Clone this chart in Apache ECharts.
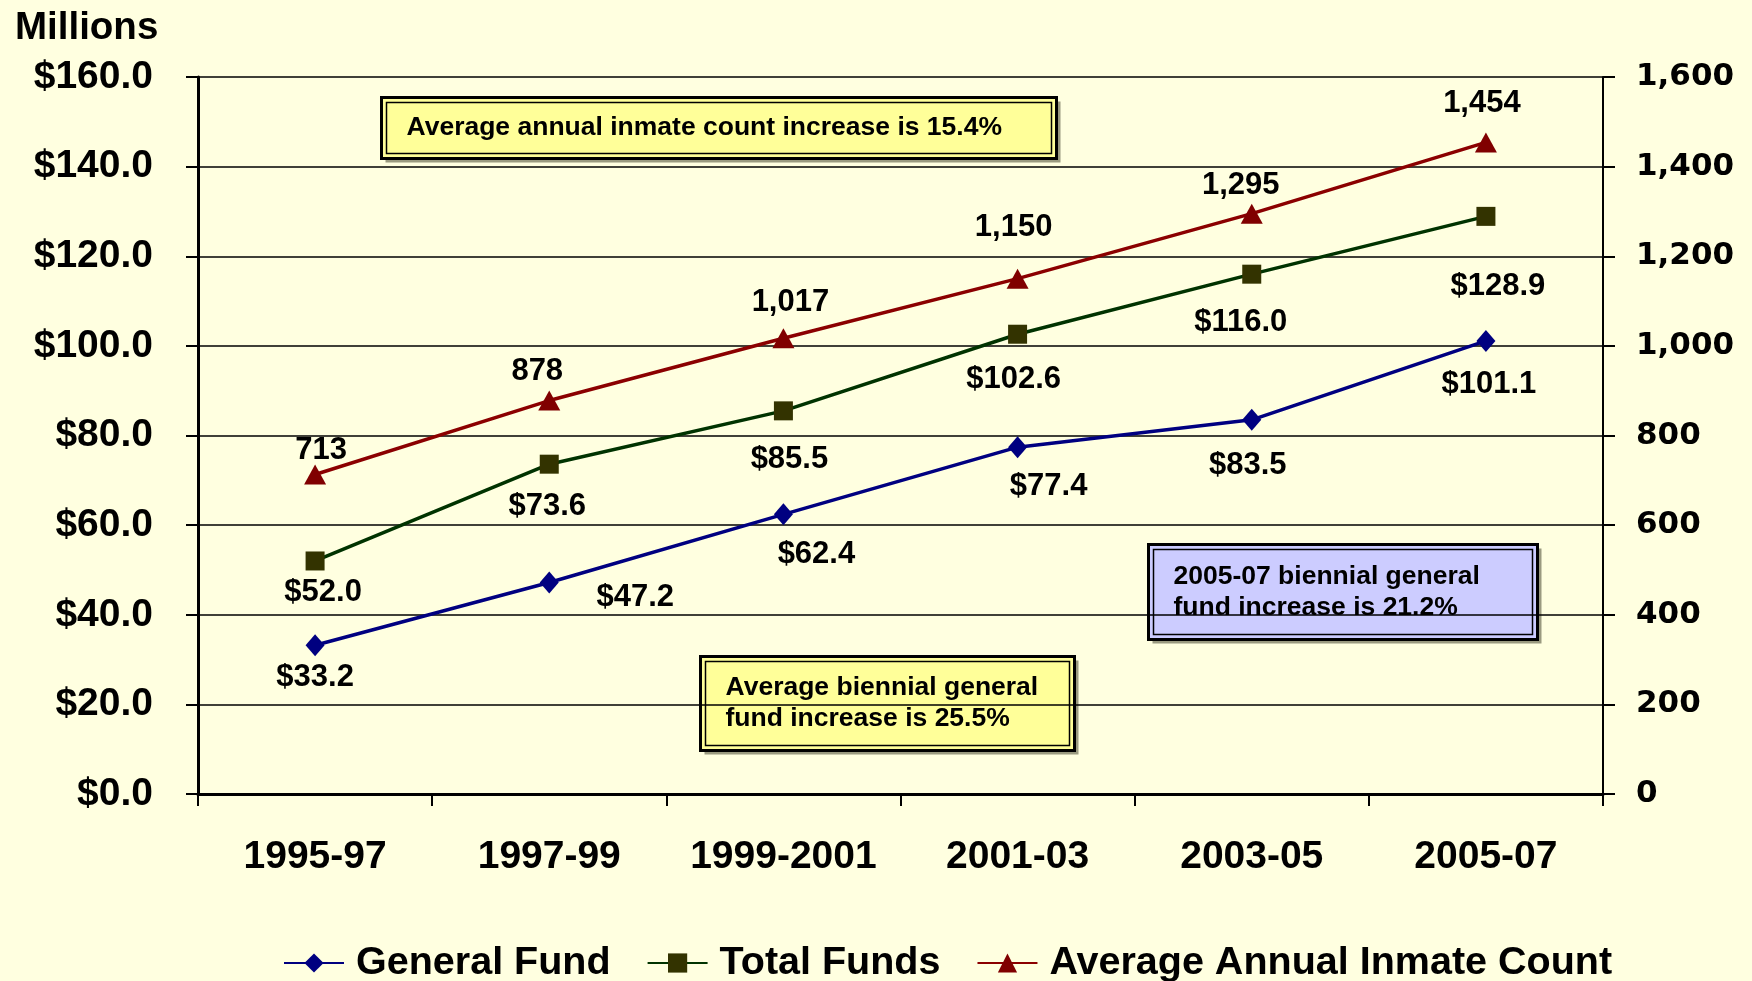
<!DOCTYPE html>
<html>
<head>
<meta charset="utf-8">
<title>General Fund, Total Funds and Inmate Count</title>
<script src="https://cdn.jsdelivr.net/npm/echarts@6/dist/echarts.min.js"></script>
<style>
  html, body { margin: 0; padding: 0; background: #ffffe0; }
  #chart { width: 1752px; height: 981px; }
</style>
</head>
<body>
<div id="chart"></div>
<script>
// biennium categories and values
const categories = ['1995-97', '1997-99', '1999-2001', '2001-03', '2003-05', '2005-07'];
const generalFund = [33.2, 47.2, 62.4, 77.4, 83.5, 101.1];   // $ millions
const totalFunds = [52.0, 73.6, 85.5, 102.6, 116.0, 128.9];  // $ millions
const inmateCount = [713, 878, 1017, 1150, 1295, 1454];      // average annual

// where each value label sits relative to its marker (px)
const gfLabelOffsets = [[0, 32], [86, 15], [33, 40], [31, 39], [-4, 46], [3, 44]];
const tfLabelOffsets = [[8, 31], [-2, 42], [6, 49], [-4, 45], [-11, 48], [12, 70]];
const icLabelOffsets = [[6, -24], [-12, -29], [7, -36], [-4, -51], [-11, -28], [-4, -39]];

const FONT = 'Liberation Sans';

function money(v) {
    return '$' + Number(v).toFixed(1);
}
function count(v) {
    return String(v).replace(/\B(?=(\d{3})+(?!\d))/g, ',');
}

function withLabels(values, offsets) {
    return values.map(function (v, i) {
        return { value: v, label: { offset: offsets[i] } };
    });
}

// framed call-out box: double black border with a soft shadow
function callout(x, y, w, h, fill, lines) {
    return {
        type: 'group',
        left: x,
        top: y,
        z: 50,
        children: [
            { type: 'rect', shape: { x: 4, y: 4, width: w, height: h }, style: { fill: '#9a9a80' } },
            { type: 'rect', shape: { x: 0, y: 0, width: w, height: h }, style: { fill: fill, stroke: '#000', lineWidth: 3 } },
            { type: 'rect', shape: { x: 5, y: 5, width: w - 10, height: h - 10 }, style: { fill: 'none', stroke: '#000', lineWidth: 1.5 } },
            {
                type: 'text',
                x: 25,
                y: h / 2,
                style: {
                    text: lines.join('\n'),
                    fill: '#000',
                    font: 'bold 26.5px "' + FONT + '"',
                    lineHeight: 31,
                    verticalAlign: 'middle',
                    align: 'left'
                }
            }
        ]
    };
}

const chart = echarts.init(document.getElementById('chart'));

const labelStyle = { show: true, position: 'inside', fontSize: 31, fontWeight: 'bold', color: '#000', fontFamily: FONT };

const option = {
    backgroundColor: '#ffffe0',
    animation: false,
    textStyle: { fontFamily: FONT, fontWeight: 'bold', color: '#000' },
    grid: { left: 198, right: 149, top: 77, bottom: 187 },
    title: {
        text: 'Millions',
        left: 10,
        top: 4,
        textStyle: { fontFamily: FONT, fontSize: 38.5, fontWeight: 'bold', color: '#000' }
    },
    legend: {
        left: 283,
        top: 943,
        padding: 0,
        itemWidth: 60,
        itemHeight: 24,
        itemGap: 36,
        textStyle: { fontFamily: FONT, fontSize: 39.5, fontWeight: 'bold', color: '#000', padding: [0, 0, 0, 7] },
        data: ['General Fund', 'Total Funds', 'Average Annual Inmate Count']
    },
    xAxis: {
        type: 'category',
        data: categories,
        boundaryGap: true,
        axisLine: { lineStyle: { color: '#000', width: 3 } },
        axisTick: { show: true, interval: 0, inside: false, length: 12, lineStyle: { color: '#000', width: 2 } },
        axisLabel: { interval: 0, margin: 44, fontSize: 39, fontWeight: 'bold', fontFamily: FONT, color: '#000' }
    },
    yAxis: [
        {
            type: 'value',
            min: 0,
            max: 160,
            interval: 20,
            position: 'left',
            axisLine: { show: true, lineStyle: { color: '#000', width: 3 } },
            axisTick: { show: true, length: 12, lineStyle: { color: '#000', width: 2 } },
            splitLine: { show: true, lineStyle: { color: '#000', width: 1.5 } },
            axisLabel: { margin: 45, fontSize: 39, fontWeight: 'bold', fontFamily: FONT, color: '#000', formatter: money }
        },
        {
            type: 'value',
            min: 0,
            max: 1600,
            interval: 200,
            position: 'right',
            axisLine: { show: true, lineStyle: { color: '#000', width: 2 } },
            axisTick: { show: true, length: 12, lineStyle: { color: '#000', width: 2 } },
            splitLine: { show: false },
            axisLabel: { margin: 33, fontSize: 31, fontWeight: 'bold', fontFamily: 'DejaVu Sans', color: '#000', formatter: count }
        }
    ],
    series: [
        {
            name: 'General Fund',
            type: 'line',
            yAxisIndex: 0,
            symbol: 'diamond',
            symbolSize: [19, 22],
            lineStyle: { color: '#000080', width: 3.5 },
            itemStyle: { color: '#000080' },
            label: Object.assign({}, labelStyle, { formatter: function (p) { return money(p.value); } }),
            data: withLabels(generalFund, gfLabelOffsets),
            z: 3
        },
        {
            name: 'Total Funds',
            type: 'line',
            yAxisIndex: 0,
            symbol: 'rect',
            symbolSize: 19,
            lineStyle: { color: '#003300', width: 3.5 },
            itemStyle: { color: '#333300' },
            label: Object.assign({}, labelStyle, { formatter: function (p) { return money(p.value); } }),
            data: withLabels(totalFunds, tfLabelOffsets),
            z: 3
        },
        {
            name: 'Average Annual Inmate Count',
            type: 'line',
            yAxisIndex: 1,
            symbol: 'triangle',
            symbolSize: [22, 20],
            lineStyle: { color: '#8b0000', width: 3.5 },
            itemStyle: { color: '#800000' },
            label: Object.assign({}, labelStyle, { formatter: function (p) { return count(p.value); } }),
            data: withLabels(inmateCount, icLabelOffsets),
            z: 3
        }
    ],
    graphic: [
        callout(380, 96, 675, 61, '#ffff99', ['Average annual inmate count increase is 15.4%']),
        callout(699, 655, 374, 94, '#ffff99', ['Average biennial general', 'fund increase is 25.5%']),
        callout(1147, 543, 389, 95, '#ccccff', ['2005-07 biennial general', 'fund increase is 21.2%'])
    ]
};

chart.setOption(option);
</script>
</body>
</html>
